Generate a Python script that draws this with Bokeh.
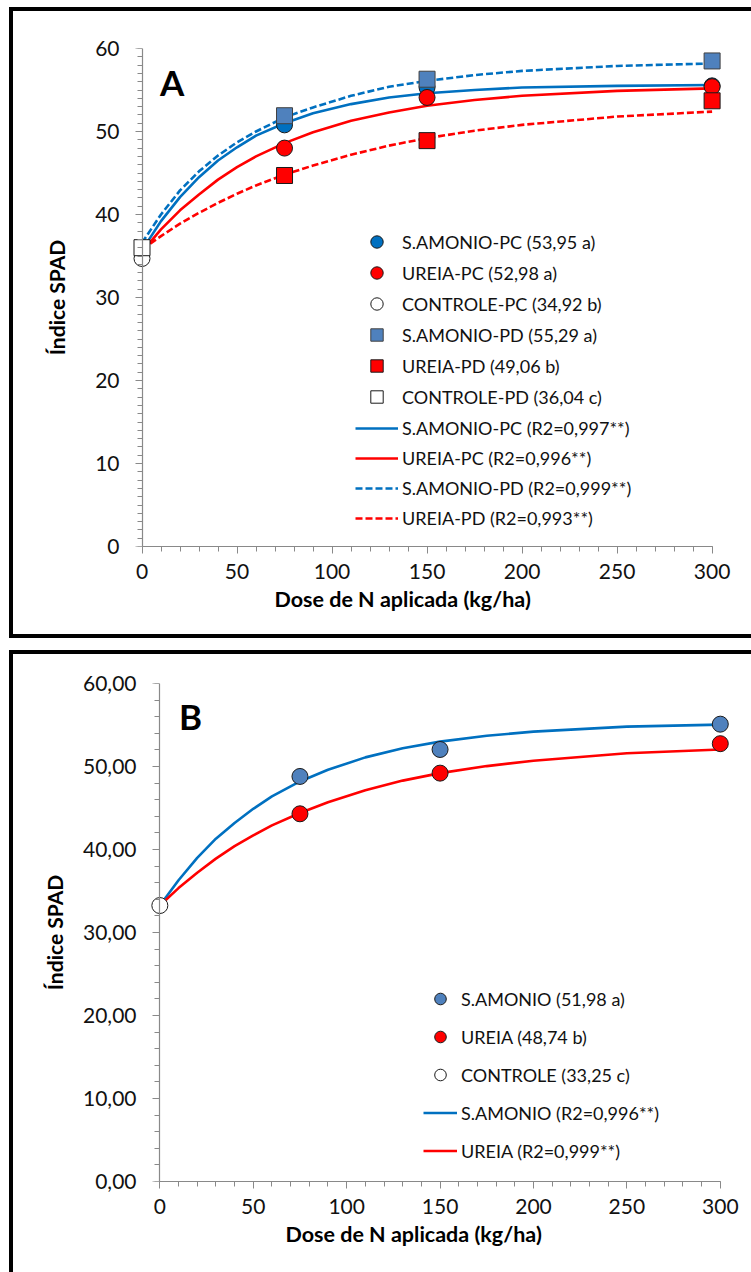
from bokeh.plotting import figure
from bokeh.models import (Range1d, SingleIntervalTicker, Legend, LegendItem, Label, Title,
                          LinearAxis, CustomJSTickFormatter, Div, Spacer)
from bokeh.layouts import column, row
from bokeh.embed import file_html
from bokeh.resources import INLINE

# ---------------- data: panel A ----------------
dose_n = [75, 150, 300]
dose_zero = [0]
samonio_pc = [50.8, 55.3, 55.5]
ureia_pc = [48.0, 54.1, 55.4]
controle_pc = [34.7]
samonio_pd = [51.9, 56.3, 58.5]
ureia_pd = [44.7, 48.9, 53.7]
controle_pd = [36.0]

curve_x = [0, 10, 20, 30, 40, 50, 60, 75, 90, 110, 130, 150, 175, 200, 250, 300]
fit_samonio_pc = [35.7, 39.2, 42.1, 44.5, 46.5, 48.1, 49.5, 51.0, 52.2, 53.3, 54.1, 54.6, 55.0, 55.3, 55.5, 55.6]
fit_ureia_pc = [35.5, 38.2, 40.5, 42.4, 44.2, 45.7, 47.0, 48.6, 49.9, 51.3, 52.3, 53.1, 53.8, 54.3, 54.9, 55.2]
fit_samonio_pd = [36.6, 40.0, 42.9, 45.2, 47.1, 48.7, 50.0, 51.7, 52.9, 54.3, 55.4, 56.1, 56.8, 57.3, 57.9, 58.2]
fit_ureia_pd = [35.8, 37.4, 38.9, 40.2, 41.4, 42.5, 43.5, 44.8, 45.9, 47.2, 48.3, 49.2, 50.1, 50.8, 51.8, 52.4]

labels_a_points = ["S.AMONIO-PC (53,95 a)", "UREIA-PC (52,98 a)", "CONTROLE-PC (34,92 b)",
                   "S.AMONIO-PD (55,29 a)", "UREIA-PD (49,06 b)", "CONTROLE-PD (36,04 c)"]
labels_a_fits = ["S.AMONIO-PC (R2=0,997**)", "UREIA-PC (R2=0,996**)",
                 "S.AMONIO-PD (R2=0,999**)", "UREIA-PD (R2=0,993**)"]

# ---------------- data: panel B ----------------
samonio_b = [48.8, 52.05, 55.1]
ureia_b = [44.3, 49.2, 52.75]
controle_b = [33.25]
fit_samonio_b = [33.25, 36.3, 39.0, 41.3, 43.2, 44.9, 46.4, 48.2, 49.6, 51.1, 52.2, 53.0, 53.7, 54.2, 54.8, 55.05]
fit_ureia_b = [33.25, 35.35, 37.2, 38.9, 40.4, 41.7, 42.9, 44.4, 45.7, 47.15, 48.3, 49.2, 50.05, 50.7, 51.6, 52.05]

labels_b_points = ["S.AMONIO (51,98 a)", "UREIA (48,74 b)", "CONTROLE (33,25 c)"]
labels_b_fits = ["S.AMONIO (R2=0,996**)", "UREIA (R2=0,999**)"]

x_title = "Dose de N aplicada (kg/ha)"
y_title = "Índice SPAD"

BLUE_LINE = "#0070C0"
BLUE_PC = "#0070C0"
BLUE_PD = "#4F81BD"
RED = "#FF0000"
AXIS_GREY = "#898989"
FONT = "Lato"
LEG_FONT_SIZE = "18px"


def base_figure(width, height, left, right, top, bottom, minor_y, y_standoff,
                ylabel_standoff, title_offset, title_standoff, label_bounds):
    p = figure(width=width, height=height, x_range=Range1d(-5, 306), y_range=Range1d(0, 60),
               output_backend="svg", toolbar_location=None,
               min_border_left=left, min_border_right=right,
               min_border_top=top, min_border_bottom=bottom)
    p.title.visible = False
    p.grid.visible = False
    p.outline_line_color = None
    p.background_fill_color = "white"
    p.border_fill_color = "white"

    # bottom axis: line, ticks and labels
    xax = p.xaxis[0]
    xax.ticker = SingleIntervalTicker(interval=50, num_minor_ticks=5)
    xax.bounds = (0, 300)
    xax.axis_line_color = AXIS_GREY
    xax.axis_line_width = 1.2
    xax.major_tick_line_color = AXIS_GREY
    xax.minor_tick_line_color = AXIS_GREY
    xax.major_tick_out = 7
    xax.major_tick_in = 0
    xax.minor_tick_out = 5
    xax.minor_tick_in = 0
    xax.major_label_text_font = FONT
    xax.major_label_text_font_size = "21px"
    xax.major_label_text_color = "#111111"
    xax.major_label_standoff = 10

    # left axis: tick labels and title only
    yax = p.yaxis[0]
    yax.ticker = SingleIntervalTicker(interval=10, num_minor_ticks=minor_y)
    yax.bounds = label_bounds
    yax.axis_line_color = None
    yax.major_tick_line_color = None
    yax.minor_tick_line_color = None
    yax.major_tick_out = 0
    yax.major_tick_in = 0
    yax.minor_tick_out = 0
    yax.minor_tick_in = 0
    yax.major_label_text_font = FONT
    yax.major_label_text_font_size = "21px"
    yax.major_label_text_color = "#111111"
    yax.major_label_standoff = y_standoff
    yax.axis_label = y_title
    yax.axis_label_text_font = FONT
    yax.axis_label_text_font_style = "bold"
    yax.axis_label_text_font_size = "21px"
    yax.axis_label_text_color = "#000000"
    yax.axis_label_standoff = ylabel_standoff

    # axis line + ticks at x = 0
    yline = LinearAxis(fixed_location=0,
                       ticker=SingleIntervalTicker(interval=10, num_minor_ticks=minor_y),
                       formatter=CustomJSTickFormatter(code="return '';"),
                       bounds=(0, 60), axis_line_color=AXIS_GREY, axis_line_width=1.2,
                       major_tick_line_color=AXIS_GREY, minor_tick_line_color=AXIS_GREY,
                       major_tick_out=7, major_tick_in=0, minor_tick_out=5, minor_tick_in=0,
                       major_label_standoff=0)
    p.add_layout(yline, "left")

    p.add_layout(Title(text=x_title, align="left", offset=title_offset,
                       standoff=title_standoff, vertical_align="bottom",
                       text_font=FONT, text_font_style="bold", text_font_size="21.5px",
                       text_color="#000000"), "below")
    return p, yax


def add_letter(p, letter, lx, ly):
    p.add_layout(Label(x=lx, y=ly, text=letter, text_font=FONT,
                       text_font_style="bold", text_font_size="35px",
                       text_align="left", text_baseline="alphabetic", text_color="#000000"))


def legend(items, loc, gw, gh, sp):
    return Legend(items=items, location=loc, glyph_width=gw, glyph_height=gh, spacing=sp,
                  label_standoff=4, padding=0, margin=0, border_line_color=None,
                  background_fill_alpha=0, label_text_font=FONT,
                  label_text_font_size=LEG_FONT_SIZE, label_text_color="#111111")


# ---------------- panel A ----------------
pA, yaxA = base_figure(738, 623, 119, 28, 37, 88, 10, 13, 23, 142, 4, (0, 60))
lA1 = pA.line(curve_x, fit_samonio_pc, line_color=BLUE_LINE, line_width=2.6)
lA2 = pA.line(curve_x, fit_ureia_pc, line_color=RED, line_width=2.6)
lA3 = pA.line(curve_x, fit_samonio_pd, line_color=BLUE_LINE, line_width=2.6, line_dash="7 3")
lA4 = pA.line(curve_x, fit_ureia_pd, line_color=RED, line_width=2.6, line_dash="7 3")
cA1 = pA.scatter(dose_n, samonio_pc, marker="circle", size=16, fill_color=BLUE_PC, line_color="#1a1a1a", line_width=1)
cA2 = pA.scatter(dose_n, ureia_pc, marker="circle", size=16, fill_color=RED, line_color="#1a1a1a", line_width=1)
cA3 = pA.scatter(dose_zero, controle_pc, marker="circle", size=16, fill_color="white", line_color="#1a1a1a", line_width=1)
sA1 = pA.scatter(dose_n, samonio_pd, marker="square", size=16, fill_color=BLUE_PD, line_color="#404040", line_width=1)
sA2 = pA.scatter(dose_n, ureia_pd, marker="square", size=16, fill_color=RED, line_color="#1a1a1a", line_width=1)
sA3 = pA.scatter(dose_zero, controle_pd, marker="square", size=16, fill_color="white", line_color="#1a1a1a", line_width=1)

rend_a = [cA1, cA2, cA3, sA1, sA2, sA3]
pA.add_layout(legend([LegendItem(label=t, renderers=[r]) for t, r in zip(labels_a_points, rend_a)],
                     (223, 134), 43, 31, 0))
pA.add_layout(legend([LegendItem(label=t, renderers=[r]) for t, r in
                      zip(labels_a_fits, [lA1, lA2, lA3, lA4])],
                     (223, 13), 43, 30, 0))
add_letter(pA, "A", 9.5, 56.0)

# ---------------- panel B ----------------
pB, yaxB = base_figure(738, 618, 137, 20, 29, 91, 5, 14, 13, 135, 4, (-2.2, 60))
yaxB.formatter = CustomJSTickFormatter(code="return tick.toFixed(2).replace('.', ',');")
lB1 = pB.line(curve_x, fit_samonio_b, line_color=BLUE_LINE, line_width=2.6)
lB2 = pB.line(curve_x, fit_ureia_b, line_color=RED, line_width=2.6)
cB1 = pB.scatter(dose_n, samonio_b, marker="circle", size=16, fill_color=BLUE_PD, line_color="#1a1a1a", line_width=1)
cB2 = pB.scatter(dose_n, ureia_b, marker="circle", size=16, fill_color=RED, line_color="#1a1a1a", line_width=1)
cB3 = pB.scatter(dose_zero, controle_b, marker="circle", size=16, fill_color="white", line_color="#1a1a1a", line_width=1)

pB.add_layout(legend([LegendItem(label=t, renderers=[r]) for t, r in
                      zip(labels_b_points + labels_b_fits, [cB1, cB2, cB3, lB1, lB2])],
                     (273, 16), 34, 29, 9))
add_letter(pB, "B", 10.3, 56.1)


# ---------------- frames (black borders) ----------------
def bar(w, h):
    return Div(text="", width=w, height=h, margin=0,
               styles={"background-color": "#000000"})


blockA = column(bar(742, 4), row(bar(4, 623), pA, spacing=0), bar(742, 4), spacing=0)
blockB = column(bar(742, 4), row(bar(4, 618), pB, spacing=0), spacing=0)
page = column(Spacer(width=751, height=7),
              row(Spacer(width=9, height=631), blockA, spacing=0),
              Spacer(width=751, height=12),
              row(Spacer(width=9, height=622), blockB, spacing=0),
              spacing=0)

open("out.html", "w").write(file_html(page, INLINE))
